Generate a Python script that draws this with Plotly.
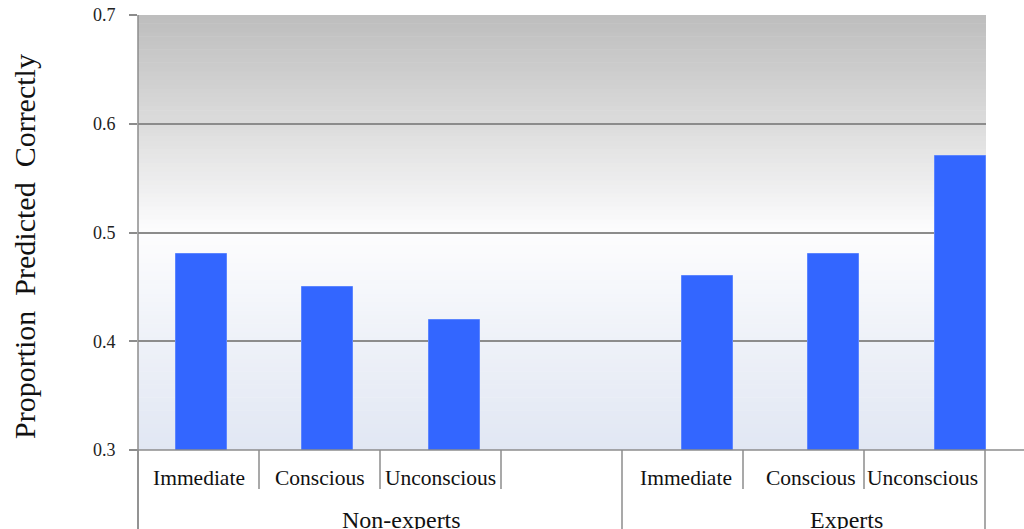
import plotly.graph_objects as go

# ---- data ----
bar_slots = [0, 1, 2, 4, 5, 6]
bar_values = [0.48, 0.45, 0.42, 0.46, 0.48, 0.57]
cat_labels = ["Immediate", "Conscious", "Unconscious", "", "Immediate", "Conscious", "Unconscious"]
group_labels = ["Non-experts", "Experts"]
group_slot_span = [(0, 4), (4, 7)]
y_ticks = [0.3, 0.4, 0.5, 0.6, 0.7]

# ---- geometry (pixels) ----
W, H = 1024, 529
L, R, T, B = 138, 38, 15, 79
PW = W - L - R          # plot width 848
PH = H - T - B          # plot height 435
BAR_SLOT = 126.5        # px per bar slot
LAB_SLOT = 121.0        # px per label slot
FONT = "Liberation Serif, Times New Roman, serif"
GRID = "#8c8c8c"

def px_x(px):
    return (px - L) / PW

def px_y(py):
    return (H - B - py) / PH

fig = go.Figure()
fig.add_trace(go.Bar(
    x=bar_slots, y=bar_values, width=51 / BAR_SLOT,
    marker=dict(color="#3366ff", line=dict(color="#5c85ff", width=1)),
    hoverinfo="x+y", showlegend=False,
))

shapes = []
# background gradient strips
stops = [(0.3, (225, 231, 243)), (0.4, (238, 241, 248)), (0.5, (253, 253, 254)),
         (0.6, (220, 220, 220)), (0.7, (189, 189, 189))]

def col_at(v):
    for (a, ca), (b, cb) in zip(stops[:-1], stops[1:]):
        if a <= v <= b:
            t = (v - a) / (b - a)
            return "rgb(%d,%d,%d)" % tuple(round(ca[i] + (cb[i] - ca[i]) * t) for i in range(3))
    return "rgb(255,255,255)"

N = 100
for i in range(N):
    y0 = 0.3 + 0.4 * i / N
    y1 = 0.3 + 0.4 * (i + 1) / N
    shapes.append(dict(type="rect", xref="paper", yref="y", x0=0, x1=1, y0=y0, y1=y1 + 0.0005,
                       fillcolor=col_at((y0 + y1) / 2), line=dict(width=0), layer="below"))

# left axis line down to bottom
shapes.append(dict(type="line", xref="paper", yref="paper", x0=0, x1=0, y0=px_y(H), y1=1,
                   line=dict(color=GRID, width=1.5)))
# bottom axis line extending to right edge
shapes.append(dict(type="line", xref="paper", yref="paper", x0=px_x(L - 8), x1=px_x(W), y0=0, y1=0,
                   line=dict(color=GRID, width=1.5)))
# category separators
group_edges = {s for span in group_slot_span for s in span}
for k in range(len(cat_labels) + 1):
    xk = px_x(L + k * LAB_SLOT)
    ybot = px_y(H) if k in group_edges else px_y(489)
    shapes.append(dict(type="line", xref="paper", yref="paper", x0=xk, x1=xk, y0=0, y1=ybot,
                       line=dict(color=GRID, width=1.5)))

annotations = []
label_nudge = [0, 0, 0, 0, 3, 7, -2]
for k, lab in enumerate(cat_labels):
    if lab:
        annotations.append(dict(text=lab, xref="paper", yref="paper",
                                x=px_x(L + (k + 0.5) * LAB_SLOT + label_nudge[k]), y=px_y(478),
                                xanchor="center", yanchor="middle", showarrow=False,
                                font=dict(family=FONT, size=21.5, color="#111")))
group_offset = [21, 43]
for lab, (a, b), off in zip(group_labels, group_slot_span, group_offset):
    annotations.append(dict(text=lab, xref="paper", yref="paper",
                            x=px_x(L + (a + b) / 2 * LAB_SLOT + off), y=px_y(520),
                            xanchor="center", yanchor="middle", showarrow=False,
                            font=dict(family=FONT, size=24, color="#111")))
annotations.append(dict(text="Proportion\u00a0 Predicted\u00a0 Correctly", xref="paper", yref="paper",
                        x=px_x(24), y=px_y(247), textangle=-90, xanchor="center", yanchor="middle",
                        showarrow=False, font=dict(family=FONT, size=30, color="#111")))

fig.update_layout(
    width=W, height=H, margin=dict(l=L, r=R, t=T, b=B, pad=0, autoexpand=False),
    paper_bgcolor="white", plot_bgcolor="white",
    xaxis=dict(range=[-0.5, -0.5 + PW / BAR_SLOT], showticklabels=False, showgrid=False,
               zeroline=False, showline=False, ticks="", fixedrange=True, automargin=False),
    yaxis=dict(range=[0.3, 0.7], tickvals=y_ticks, ticktext=["%.1f" % v for v in y_ticks],
               showgrid=True, gridcolor=GRID, gridwidth=1.5, zeroline=False, showline=False,
               ticks="outside", ticklen=8, tickwidth=1.5, tickcolor=GRID,
               ticklabelstandoff=10, automargin=False,
               tickfont=dict(family=FONT, size=18, color="#222"), fixedrange=True),
    shapes=shapes, annotations=annotations, bargap=0,
)
fig.write_html("out.html", config={"displayModeBar": False},
               post_script="document.body.style.margin='0';document.body.style.overflow='hidden';")
